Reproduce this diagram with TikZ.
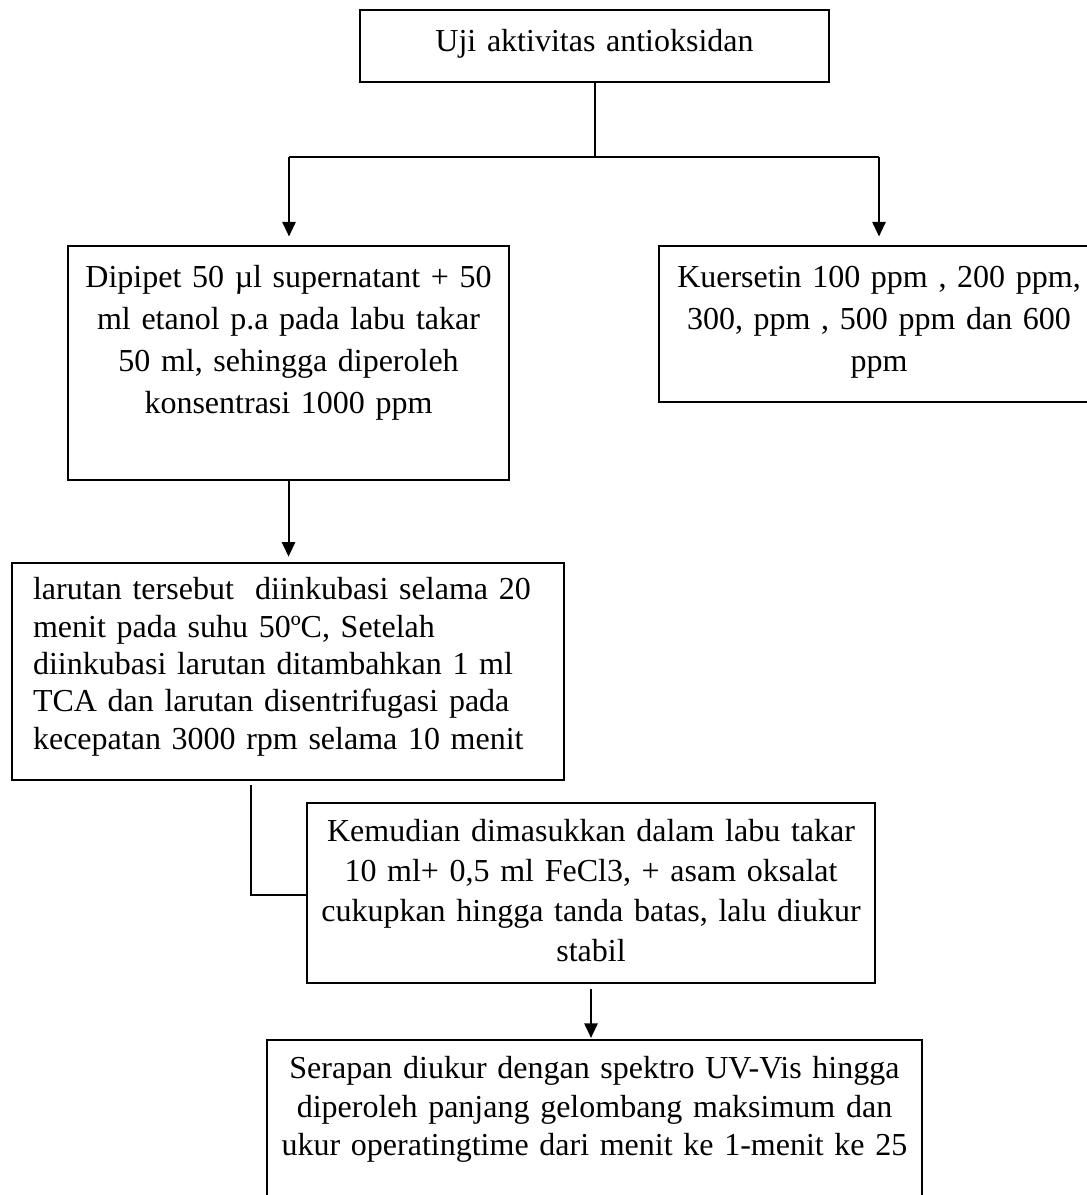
\documentclass[tikz,border=0pt]{standalone}
\usepackage{fontspec}
\setmainfont{Liberation Serif}[WordSpace=0.75]
\usetikzlibrary{arrows.meta}
\tikzset{
  stepbox/.style={draw, line width=0.75pt, anchor=north west, inner sep=0pt, align=center},
  flow/.style={line width=0.75pt},
  flowarrow/.style={line width=0.75pt, -{Triangle[width=5pt,length=5.5pt]}},
}
\begin{document}
\begin{tikzpicture}[x=0.375pt, y=-0.375pt]
            \useasboundingbox (0,0) rectangle (1086,1195);
            \node[stepbox, text width=175.9pt, text height=15.4pt, text depth=11.6pt,
                  font=\fontsize{12}{15}\selectfont] (uji) at (359,9){Uji aktivitas antioksidan};
            \node[stepbox, text width=165.4pt, text height=15.4pt, text depth=72.4pt,
                  font=\fontsize{12}{15.75}\selectfont] (dipipet) at (67,245)
                  {Dipipet 50 µl supernatant + 50\\ ml etanol p.a pada labu takar\\ 50 ml, sehingga diperoleh\\ konsentrasi 1000 ppm};
            \node[stepbox, text width=165pt, text height=15.4pt, text depth=43.1pt,
                  font=\fontsize{12}{15.75}\selectfont] (kuersetin) at (658,245)
                  {Kuersetin 100 ppm , 200 ppm,\\ 300, ppm , 500 ppm dan 600\\ ppm};
            \node[stepbox, align=left, inner xsep=7.9pt, text width=191.2pt, text height=13.8pt, text depth=67.6pt,
                  font=\fontsize{12}{14}\selectfont] (larutan) at (11,562)
                  {larutan tersebut\ \ diinkubasi selama 20\\ menit pada suhu 50ºC, Setelah\\ diinkubasi larutan ditambahkan 1 ml\\ TCA dan larutan disentrifugasi pada\\ kecepatan 3000 rpm selama 10 menit};
            \node[stepbox, text width=213pt, text height=14.25pt, text depth=53.25pt,
                  font=\fontsize{12}{15}\selectfont] (kemudian) at (306,802)
                  {Kemudian dimasukkan dalam labu takar\\ 10 ml+ 0,5 ml FeCl3, + asam oksalat\\ cukupkan hingga tanda batas, lalu diukur\\ stabil};
            \node[stepbox, text width=245.6pt, text height=14.6pt, text depth=51.4pt,
                  font=\fontsize{12}{14.3}\selectfont] (serapan) at (266,1039)
                  {Serapan diukur dengan spektro UV-Vis hingga\\ diperoleh panjang gelombang maksimum dan\\ ukur operatingtime dari menit ke 1-menit ke 25};

            \coordinate (jl) at (289,157);
            \coordinate (jr) at (879,157);
            \coordinate (elbow) at (251,895);

            \draw[flow] (uji.south) -- (uji.south |- jl);
            \draw[flow] (jl) -- (jr);
            \draw[flowarrow, shorten >=3.2pt] (jl) -- (jl |- dipipet.north);
            \draw[flowarrow, shorten >=3.2pt] (jr) -- (jr |- kuersetin.north);
            \draw[flowarrow, shorten >=2pt] (dipipet.south) -- (dipipet.south |- larutan.north);
            \draw[flow] ([yshift=-1.5pt]larutan.south -| elbow) -- (elbow) -- (elbow -| kemudian.west);
            \draw[flowarrow, shorten <=2pt, shorten >=0.4pt] (kemudian.south) -- (kemudian.south |- serapan.north);
        \end{tikzpicture}
\end{document}
